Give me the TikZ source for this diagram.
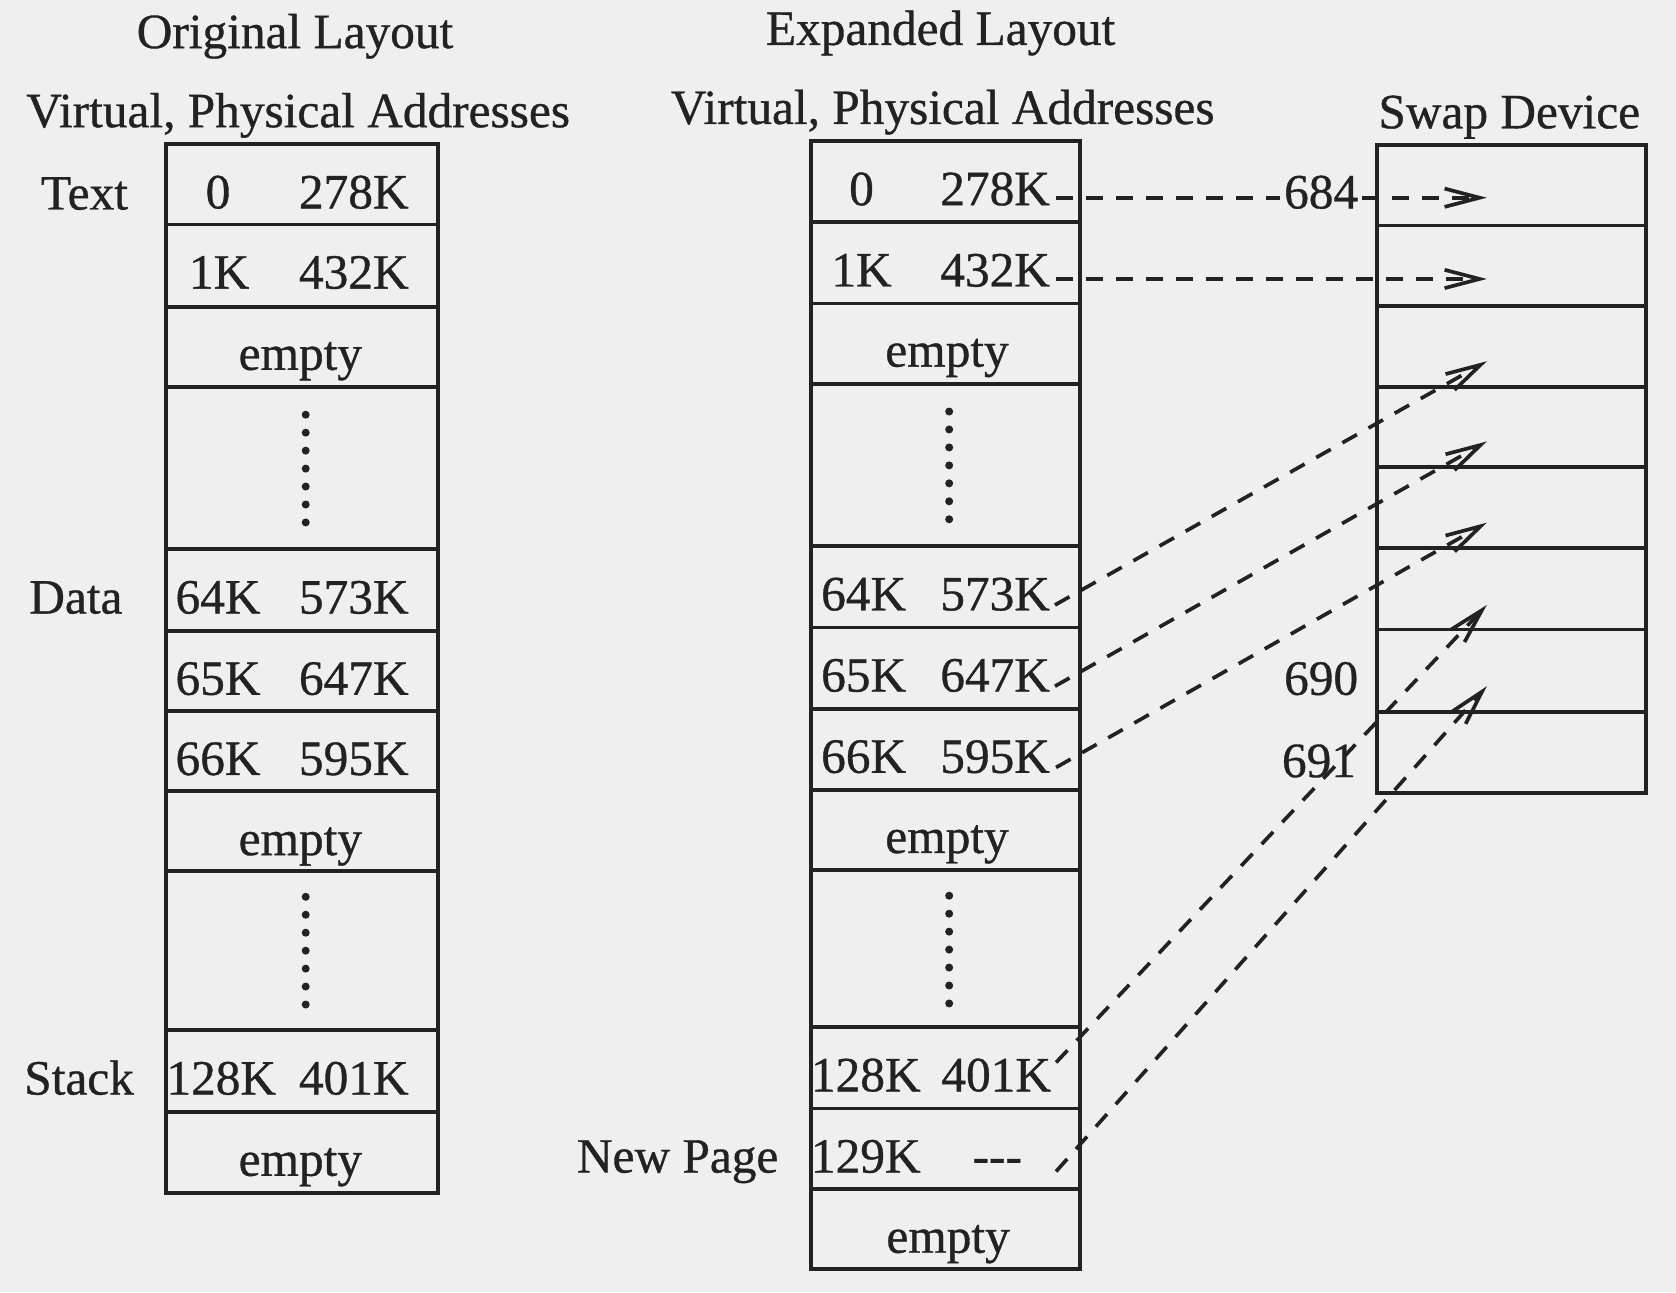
\documentclass[tikz,border=0pt]{standalone}
\usepackage{fontspec}
\setmainfont{Liberation Serif}[FakeBold=0.7]
\usetikzlibrary{arrows.meta,fit}
\definecolor{bg}{HTML}{EFEFEF}
\definecolor{ink}{HTML}{222222}
\begin{document}
\begin{tikzpicture}[x=0.32066pt,y=-0.32066pt,
  cellbox/.style={draw=ink, line width=1.15pt, inner sep=0pt},
  txt/.style={anchor=base, inner sep=0pt, text=ink, font=\fontsize{14.8}{17}\selectfont},
  dashline/.style={draw=ink, line width=1.1pt, dash pattern=on 5pt off 4pt},
  arr/.style={-{Straight Barb[length=10.5pt,width=5.5pt]}},
  dotfill/.style={fill=ink}
]
\fill[bg] (0,0) rectangle (1568,1209);
\useasboundingbox (0,0) rectangle (1568,1209);

% headers
\node[txt] (hOrig) at (276,45) {Original Layout};
\node[txt] (hVPl) at (279,119) {Virtual, Physical Addresses};
\node[txt] (hExp) at (880,42) {Expanded Layout};
\node[txt] (hVPm) at (882,116) {Virtual, Physical Addresses};
\node[txt] (hSwap) at (1412,120) {Swap Device};

% ---------- Original layout ----------
\node[cellbox, fit={(155,135) (410,210)}] (L1) {};
\node[cellbox, fit={(155,210) (410,287)}] (L2) {};
\node[cellbox, fit={(155,287) (410,362)}] (L3) {};
\node[cellbox, fit={(155,362) (410,514)}] (L4) {};
\node[cellbox, fit={(155,514) (410,590)}] (L5) {};
\node[cellbox, fit={(155,590) (410,665)}] (L6) {};
\node[cellbox, fit={(155,665) (410,740)}] (L7) {};
\node[cellbox, fit={(155,740) (410,815)}] (L8) {};
\node[cellbox, fit={(155,815) (410,964)}] (L9) {};
\node[cellbox, fit={(155,964) (410,1040)}] (L10) {};
\node[cellbox, fit={(155,1040) (410,1116)}] (L11) {};

\node[txt] (L1v) at (204,195) {0};     \node[txt] (L1p) at (331,195) {278K};
\node[txt] (L2v) at (205,270) {1K};    \node[txt] (L2p) at (331,270) {432K};
\node[txt] (L3e) at (281,346) {empty};
\node[txt] (L5v) at (204,574) {64K};   \node[txt] (L5p) at (331,574) {573K};
\node[txt] (L6v) at (204,650) {65K};   \node[txt] (L6p) at (331,650) {647K};
\node[txt] (L7v) at (204,725) {66K};   \node[txt] (L7p) at (331,725) {595K};
\node[txt] (L8e) at (281,800) {empty};
\node[txt] (L10v) at (207,1024) {128K}; \node[txt] (L10p) at (331,1024) {401K};
\node[txt] (L11e) at (281,1100) {empty};

\foreach \k in {0,...,6} {
  \fill[dotfill] (286,{388+16.8*\k}) circle (1.2pt);
  \fill[dotfill] (286,{839+16.8*\k}) circle (1.2pt);
}

\node[txt] (lText) at (79,196) {Text};
\node[txt] (lData) at (71,574) {Data};
\node[txt] (lStack) at (74,1024) {Stack};

% ---------- Expanded layout ----------
\node[cellbox, fit={(759,132) (1010,208)}] (M1) {};
\node[cellbox, fit={(759,208) (1010,284)}] (M2) {};
\node[cellbox, fit={(759,284) (1010,359)}] (M3) {};
\node[cellbox, fit={(759,359) (1010,511)}] (M4) {};
\node[cellbox, fit={(759,511) (1010,587)}] (M5) {};
\node[cellbox, fit={(759,587) (1010,663)}] (M6) {};
\node[cellbox, fit={(759,663) (1010,739)}] (M7) {};
\node[cellbox, fit={(759,739) (1010,814)}] (M8) {};
\node[cellbox, fit={(759,814) (1010,961)}] (M9) {};
\node[cellbox, fit={(759,961) (1010,1037)}] (M10) {};
\node[cellbox, fit={(759,1037) (1010,1112)}] (M11) {};
\node[cellbox, fit={(759,1112) (1010,1187)}] (M12) {};

\node[txt] (M1v) at (806,192) {0};     \node[txt] (M1p) at (931,192) {278K};
\node[txt] (M2v) at (806,268) {1K};    \node[txt] (M2p) at (931,268) {432K};
\node[txt] (M3e) at (886,343) {empty};
\node[txt] (M5v) at (808,571) {64K};   \node[txt] (M5p) at (931,571) {573K};
\node[txt] (M6v) at (808,647) {65K};   \node[txt] (M6p) at (931,647) {647K};
\node[txt] (M7v) at (808,723) {66K};   \node[txt] (M7p) at (931,723) {595K};
\node[txt] (M8e) at (886,798) {empty};
\node[txt] (M10v) at (810,1021) {128K}; \node[txt] (M10p) at (932,1021) {401K};
\node[txt] (M11v) at (810,1097) {129K}; \node[txt] (M11p) at (933,1097) {-{}-{}-};
\node[txt] (M12e) at (887,1172) {empty};

\foreach \k in {0,...,6} {
  \fill[dotfill] (888,{385+16.8*\k}) circle (1.2pt);
  \fill[dotfill] (888,{838+16.8*\k}) circle (1.2pt);
}

\node[txt] (lNew) at (634,1097) {New Page};

% ---------- Swap device ----------
\node[cellbox, fit={(1288,136) (1540,211)}] (S1) {};
\node[cellbox, fit={(1288,211) (1540,286)}] (S2) {};
\node[cellbox, fit={(1288,286) (1540,362)}] (S3) {};
\node[cellbox, fit={(1288,362) (1540,437)}] (S4) {};
\node[cellbox, fit={(1288,437) (1540,513)}] (S5) {};
\node[cellbox, fit={(1288,513) (1540,589)}] (S6) {};
\node[cellbox, fit={(1288,589) (1540,666)}] (S7) {};
\node[cellbox, fit={(1288,666) (1540,742)}] (S8) {};

\node[txt, inner sep=1pt] (n684) at (1236,195) {684};
\node[txt] (n690) at (1236,650) {690};
\node[txt] (n691) at (1234,727) {691};

% ---------- connectors ----------
\coordinate (c1) at (988,185);  \coordinate (t1) at (1391,185);
\coordinate (c2) at (988,261);  \coordinate (t2) at (1391,261);
\coordinate (c3) at (987,566);  \coordinate (t3) at (1391,338);
\coordinate (c4) at (987,642);  \coordinate (t4) at (1391,413);
\coordinate (c5) at (988,718);  \coordinate (t5) at (1391,489);
\coordinate (c6) at (988,994);  \coordinate (t6) at (1391,566);
\coordinate (c7) at (988,1096); \coordinate (t7) at (1391,642);

\draw[dashline] (c1) -- (c1 -| n684.west);
\draw[dashline,arr] (c1 -| n684.east) -- (t1);
\draw[dashline,arr] (c2) -- (t2);
\draw[dashline,arr] (c3) -- (t3);
\draw[dashline,arr] (c4) -- (t4);
\draw[dashline,arr] (c5) -- (t5);
\draw[dashline,arr] (c6) -- (t6);
\draw[dashline,arr] (c7) -- (t7);
\end{tikzpicture}
\end{document}
